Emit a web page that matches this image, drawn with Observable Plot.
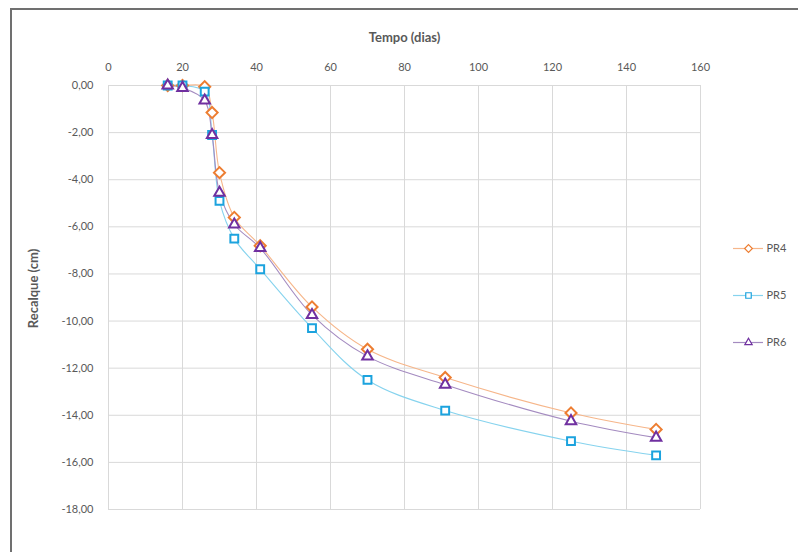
<!DOCTYPE html>
<html>
<head>
<meta charset="utf-8">
<script src="https://cdn.jsdelivr.net/npm/d3@7"></script>
<script src="https://cdn.jsdelivr.net/npm/@observablehq/plot@0.6"></script>
<style>
  body { margin: 0; background: #fff; }
  #wrap { position: relative; width: 798px; height: 552px; overflow: hidden; font-family: Lato, "Open Sans", sans-serif; }
  #border { position: absolute; left: 10px; top: 8px; width: 820px; height: 580px; border: 2px solid #707070; box-sizing: border-box; pointer-events: none; }
  #chart { position: absolute; left: 0; top: 0; }
  #legend { position: absolute; left: 728px; top: 225px; }
</style>
</head>
<body>
<div id="wrap">
  <div id="chart"></div>
  <div id="legend"></div>
  <div id="border"></div>
</div>
<script>
const dias = [16, 20, 26, 28, 30, 34, 41, 55, 70, 91, 125, 148];
const pr4 = [0, 0, -0.05, -1.15, -3.7, -5.6, -6.8, -9.4, -11.2, -12.4, -13.9, -14.6];
const pr5 = [0, 0, -0.26, -2.1, -4.9, -6.5, -7.8, -10.3, -12.5, -13.8, -15.1, -15.7];
const pr6 = [0, -0.1, -0.64, -2.1, -4.55, -5.9, -6.9, -9.74, -11.5, -12.7, -14.25, -14.95];
const seriesNames = ["PR4", "PR5", "PR6"];
const xTicks = [0, 20, 40, 60, 80, 100, 120, 140, 160];
const yTicks = [0, -2, -4, -6, -8, -10, -12, -14, -16, -18];
const xTitle = "Tempo (dias)";
const yTitle = "Recalque (cm)";

const styles = {
  PR4: {line: "#F6B68A", mark: "#ED7D31", symbol: "diamond2"},
  PR5: {line: "#86D3EE", mark: "#1CA3DE", symbol: "square2"},
  PR6: {line: "#A48BC0", mark: "#7030A0", symbol: "triangle2"}
};
const values = {PR4: pr4, PR5: pr5, PR6: pr6};
const rows = seriesNames.map(s => dias.map((d, i) => ({s, x: d, y: values[s][i]})));

const fmt = d => d.toFixed(2).replace(".", ",");
const font = "Lato, 'Open Sans', sans-serif";

const marks = [
  Plot.gridX(xTicks, {stroke: "#d9d9d9", strokeOpacity: 1}),
  Plot.gridY(yTicks, {stroke: "#d9d9d9", strokeOpacity: 1}),
  Plot.axisX(xTicks, {anchor: "top", tickSize: 0, tickPadding: 15, fill: "#595959", fontSize: 11, label: null}),
  Plot.axisY(yTicks, {anchor: "left", tickSize: 0, tickPadding: 15, fill: "#595959", fontSize: 11, tickFormat: fmt, label: null}),
  Plot.text([xTitle], {frameAnchor: "top", dy: -53, fontWeight: "bold", fontSize: 13, fill: "#595959"}),
  Plot.text([yTitle], {frameAnchor: "left", textAnchor: "middle", dx: -75, dy: -9, rotate: -90, fontWeight: "bold", fontSize: 13, fill: "#595959"})
];
for (const r of rows) {
  const st = styles[r[0].s];
  marks.push(Plot.line(r, {x: "x", y: "y", stroke: st.line, strokeWidth: 1.1, curve: "catmull-rom"}));
}
for (const r of rows) {
  const st = styles[r[0].s];
  marks.push(Plot.dot(r, {x: "x", y: "y", symbol: st.symbol, r: 5, stroke: st.mark, strokeWidth: 2, fill: "white"}));
}

const chart = Plot.plot({
  width: 798, height: 552,
  marginLeft: 108, marginRight: 98, marginTop: 85, marginBottom: 43,
  style: {fontFamily: font, background: "transparent"},
  x: {domain: [0, 160]},
  y: {domain: [-18, 0]},
  marks
});
document.getElementById("chart").appendChild(chart);

const legend = Plot.plot({
  width: 70, height: 140,
  marginLeft: 5, marginRight: 5, marginTop: 22, marginBottom: 23,
  style: {fontFamily: font, background: "transparent"},
  x: {domain: [0, 1], axis: null},
  y: {domain: seriesNames, type: "point", padding: 0, axis: null},
  marks: [
    Plot.ruleY(seriesNames, {y: d => d, x1: 0, x2: 0.5, stroke: d => styles[d].line, strokeWidth: 1.2}),
    Plot.dot(seriesNames, {y: d => d, x: 0.25, symbol: d => styles[d].symbol, r: 3.5, stroke: d => styles[d].mark, strokeWidth: 1.2, fill: "white"}),
    Plot.text(seriesNames, {y: d => d, x: 0.55, text: d => d, textAnchor: "start", fill: "#595959", fontSize: 11})
  ]
});
document.getElementById("legend").appendChild(legend);
</script>
</body>
</html>
